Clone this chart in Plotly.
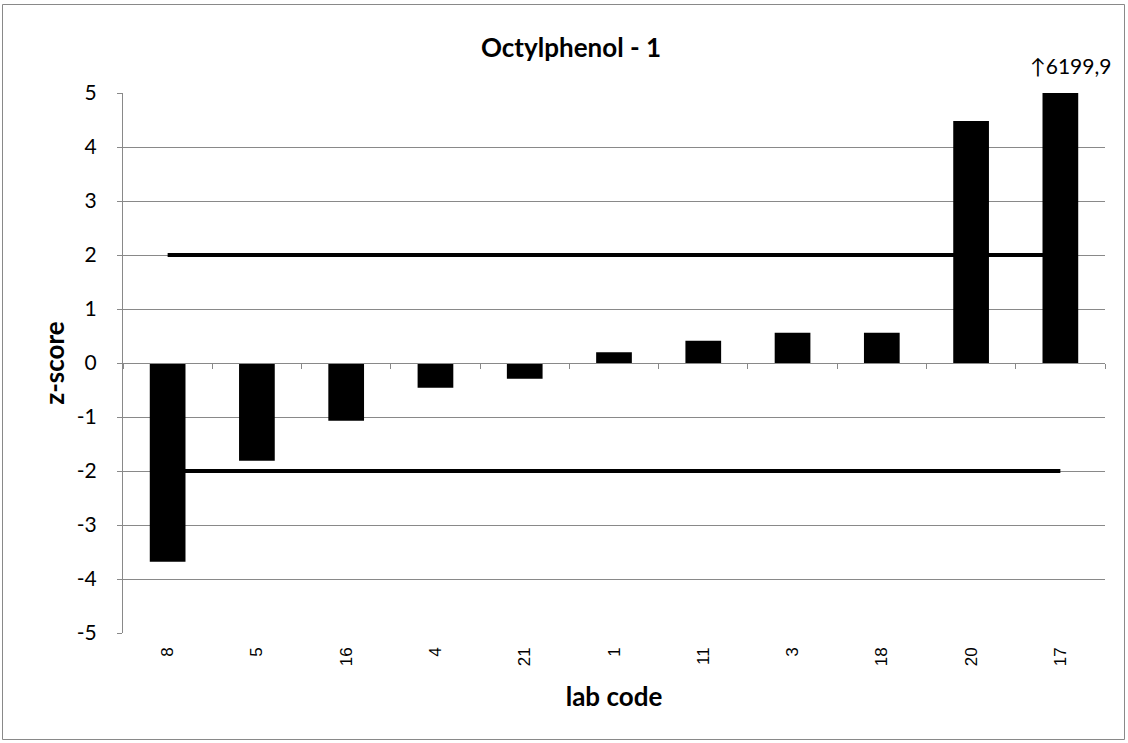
import plotly.graph_objects as go

lab_codes = ["8", "5", "16", "4", "21", "1", "11", "3", "18", "20", "17"]
z_scores = [-3.68, -1.81, -1.07, -0.46, -0.29, 0.20, 0.41, 0.56, 0.56, 4.48, 6199.9]
upper_limit = [2, 2]
lower_limit = [-2, -2]
limit_x = [lab_codes[0], lab_codes[-1]]
off_scale_label = "↑6199,9"
y_ticks = [-5, -4, -3, -2, -1, 0, 1, 2, 3, 4, 5]
y_tick_text = ["-5", "-4", "-3", "-2", "-1", "0", "1", "2", "3", "4", "5"]

W, H = 1128, 743
L, R, T, B = 123, 23, 93, 110
pw, ph = W - L - R, H - T - B

GRID = "#898989"
CAL = "Lato, Calibri, sans-serif"

fig = go.Figure()
# limit lines (behind bars)
fig.add_trace(go.Scatter(x=limit_x, y=upper_limit, mode="lines",
                         line=dict(color="black", width=4), xaxis="x", yaxis="y",
                         showlegend=False, hoverinfo="skip"))
fig.add_trace(go.Scatter(x=limit_x, y=lower_limit, mode="lines",
                         line=dict(color="black", width=4), xaxis="x", yaxis="y",
                         showlegend=False, hoverinfo="skip"))
# bars on overlay axes so they draw over the lines
fig.add_trace(go.Bar(x=lab_codes, y=z_scores, width=0.4,
                     marker=dict(color="black", line=dict(width=0)),
                     xaxis="x2", yaxis="y2", showlegend=False))

def px2x(p):
    return (p - L) / pw

def px2y(p):
    return (H - B - p) / ph

fig.update_layout(
    width=W, height=H,
    margin=dict(l=L, r=R, t=T, b=B),
    paper_bgcolor="white", plot_bgcolor="white",
    title=dict(text="<b>Octylphenol - 1</b>", x=571 / W, xref="container", xanchor="center",
               y=1 - 48 / H, yref="container", yanchor="middle",
               font=dict(family=CAL, size=26, color="black")),
    xaxis=dict(type="category", categoryorder="array", categoryarray=lab_codes,
               range=[-0.5, len(lab_codes) - 0.5],
               showgrid=False, showline=False, ticks="", tickangle=-90,
               ticklabelstandoff=10,
               tickfont=dict(family="Liberation Sans, Arial, sans-serif", size=17, color="black"),
               title=dict(text="<b>lab code</b>", font=dict(family=CAL, size=26, color="black"),
                          standoff=22)),
    yaxis=dict(range=[-5, 5], tickvals=y_ticks, ticktext=y_tick_text,
               showgrid=True, gridcolor=GRID, gridwidth=1,
               zeroline=False, showline=True, linecolor=GRID, linewidth=1,
               ticks="outside", ticklen=5, tickcolor=GRID, ticklabelstandoff=16,
               tickfont=dict(family=CAL, size=21, color="black"),
               title=dict(text="<b>z-score</b>", font=dict(family=CAL, size=26, color="black"),
                          standoff=4)),
    xaxis2=dict(type="category", categoryorder="array", categoryarray=lab_codes,
                overlaying="x", matches="x", anchor="free", position=0.5,
                showgrid=False, showline=True, linecolor=GRID, linewidth=1,
                ticks="outside", ticklen=5, tickcolor=GRID, tickson="boundaries",
                showticklabels=False),
    yaxis2=dict(overlaying="y", matches="y", visible=False, showgrid=False),
    annotations=[dict(text=off_scale_label, x=len(lab_codes) - 1, xref="x", xshift=10,
                      y=px2y(66), yref="paper",
                      xanchor="center", yanchor="middle", showarrow=False,
                      font=dict(family=CAL, size=21, color="black"))],
    shapes=[dict(type="rect", xref="paper", yref="paper",
                 x0=px2x(2.5), x1=px2x(1124.5), y0=px2y(739.5), y1=px2y(4.5),
                 line=dict(color=GRID, width=1), fillcolor="rgba(0,0,0,0)", layer="below")],
)

fig.write_html("out.html", config={"displayModeBar": False},
               post_script="document.body.style.margin='0';document.body.style.padding='0';")
